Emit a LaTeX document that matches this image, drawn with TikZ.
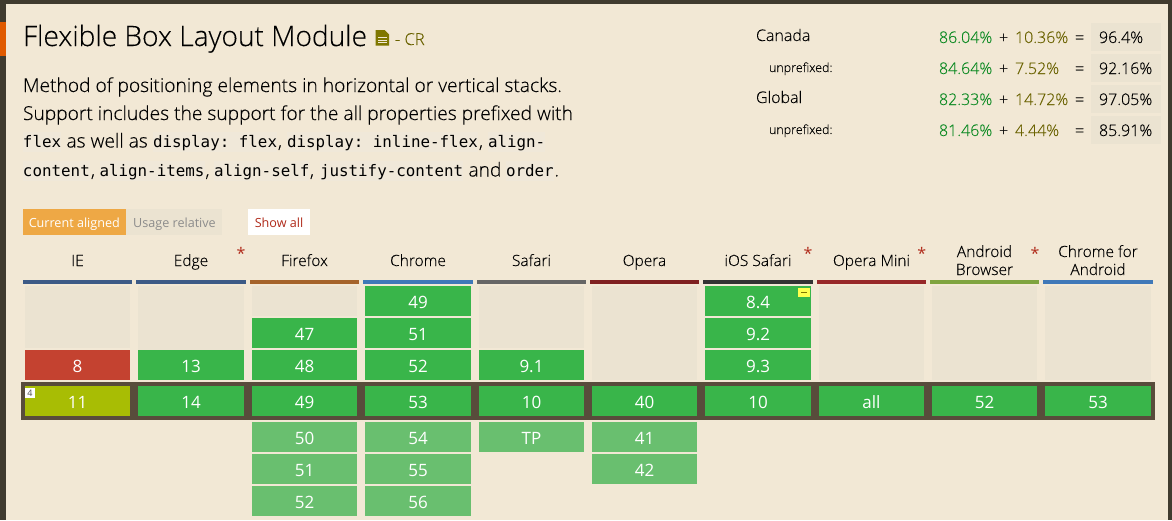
\documentclass[tikz,border=0pt]{standalone}
\usepackage{fontspec}
\setmainfont{Open Sans}
\newfontfamily\lightf[RawFeature={embolden=0.25}]{Open Sans Light}
\setmonofont{DejaVu Sans Mono}
\definecolor{pagebg}{HTML}{F2E8D5}
\definecolor{darkbar}{HTML}{403B2F}
\definecolor{framec}{HTML}{584C3B}
\definecolor{emptyc}{HTML}{EBE3D1}
\definecolor{yesc}{HTML}{39B54A}
\definecolor{futc}{HTML}{69BF6F}
\definecolor{noc}{HTML}{C44230}
\definecolor{partc}{HTML}{A8BD04}
\definecolor{orangec}{HTML}{E05A00}
\definecolor{alignc}{HTML}{EEA845}
\definecolor{olivec}{HTML}{7F7700}
\definecolor{olivet}{HTML}{6A6200}
\definecolor{greenp}{HTML}{0C8A22}
\definecolor{redt}{HTML}{B02A1A}
\definecolor{codebg}{HTML}{F0E8D9}
\definecolor{hIE}{HTML}{3C5A86}
\definecolor{hFF}{HTML}{A5632A}
\definecolor{hCH}{HTML}{3F78B8}
\definecolor{hSA}{HTML}{666666}
\definecolor{hOP}{HTML}{7F2020}
\definecolor{hIO}{HTML}{333333}
\definecolor{hOM}{HTML}{972828}
\definecolor{hAB}{HTML}{7FA43F}
\definecolor{yellowc}{HTML}{FFFF4D}
\tikzset{
  x=1pt,y=-1pt,
  txt/.style={inner sep=0pt,outer sep=0pt,anchor=base west,text=black},
  ctr/.style={inner sep=0pt,outer sep=0pt,anchor=base,text=black},
  cellt/.style={inner sep=0pt,outer sep=0pt,anchor=base,text=white,font=\fontsize{17}{17}\selectfont},
  hd/.style={ctr,font=\lightf\fontsize{15.5}{18}\selectfont,align=center},
  star/.style={ctr,text=redt,font=\fontsize{16}{16}\selectfont},
  body/.style={txt,font=\lightf\fontsize{19.2}{22}\selectfont},
  code/.style={txt,font=\ttfamily\fontsize{15.85}{18}\selectfont},
  num/.style={txt,font=\lightf\fontsize{16}{18}\selectfont},
  small/.style={txt,font=\lightf\fontsize{12.5}{15}\selectfont},
  btn/.style={ctr,font=\fontsize{12.6}{15}\selectfont},
}
\newcommand{\cellbox}[6]{% name, x0, x1, y0, colour, text
  \fill[#5] (#2,#4) rectangle (#3,#4+30);
  \node[cellt] (#1) at ({(#2+#3)/2},#4+22) {#6};
}
\newcommand{\colhead}[3]{\fill[#3] (#1-2,280) rectangle (#2+2,284);}
\newcommand{\emptycell}[3]{\fill[emptyc] (#1,286) rectangle (#2,#3);}
\begin{document}
\begin{tikzpicture}
\useasboundingbox (0,0) rectangle (1172,520);
\fill[pagebg] (0,0) rectangle (1172,520);
\fill[darkbar] (0,0) rectangle (1172,4);
\fill[darkbar] (0,0) rectangle (6,520);
\fill[darkbar] (1168,0) rectangle (1172,520);
\fill[orangec] (0,22) rectangle (6,56);
% title
\node[txt,font=\lightf\fontsize{28.1}{30}\selectfont] (title) at (23,46) {Flexible Box Layout Module};
\fill[olivec] (375.5,30) -- (384.5,30) -- (389,34.5) -- (389,45.5) -- (375.5,45.5) -- cycle;
\draw[pagebg,line width=.8pt] (378,37.5) -- (386.5,37.5) (378,40) -- (386.5,40) (378,42.5) -- (386.5,42.5);
\node[txt,text=olivet,font=\lightf\fontsize{16.5}{18}\selectfont] (cr) at (395,45) {- CR};
% description
\node[body] (l1) at (23,92) {Method of positioning elements in horizontal or vertical stacks.};
\node[body] (l2) at (23,120) {Support includes the support for the all properties prefixed with};
\fill[codebg] (23,132) rectangle (61,152);
\fill[codebg] (153,132) rectangle (277,152);
\fill[codebg] (287,132) rectangle (478,152);
\fill[codebg] (488,132) rectangle (545,152);
\fill[codebg] (23,161) rectangle (90,181);
\fill[codebg] (99.5,161) rectangle (205,181);
\fill[codebg] (214,161) rectangle (309,181);
\fill[codebg] (319.5,161) rectangle (463,181);
\fill[codebg] (506,161) rectangle (554,181);
\node[code] (c1) at (23,147.5) {flex};
\node[body] (t1) at (66.5,147.5) {as well as};
\node[code] (c2) at (153,147.5) {display: flex};
\node[body] (t2) at (278,147.5) {,};
\node[code] (c3) at (287,147.5) {display: inline-flex};
\node[body] (t3) at (479,147.5) {,};
\node[code] (c4) at (488,147.5) {align-};
\node[code] (c5) at (23,176.5) {content};
\node[body] (t4) at (91,176.5) {,};
\node[code] (c6) at (99.5,176.5) {align-items};
\node[body] (t5) at (205.5,176.5) {,};
\node[code] (c7) at (214,176.5) {align-self};
\node[body] (t6) at (310,176.5) {,};
\node[code] (c8) at (320,176.5) {justify-content};
\node[body] (t7) at (468.5,176.5) {and};
\node[code] (c9) at (506,176.5) {order};
\node[body] (t8) at (554.5,176.5) {.};
% buttons
\fill[alignc] (23,209) rectangle (126,235);
\fill[emptyc] (126,209) rectangle (222,235);
\fill[white] (248,209) rectangle (310,235);
\node[btn,text=white] (b1) at (74.3,227) {Current aligned};
\node[btn,text=black!45] (b2) at (174.5,227) {Usage relative};
\node[btn,text=redt] (b3) at (279,227) {Show all};
% stats
\foreach \y/\yy in {23/51,54/82,85/113,116/144}{\fill[emptyc] (1091,\y) rectangle (1161,\yy);}
\node[num] (s1) at (756,41) {Canada};
\node[small] (s2) at (769,72) {unprefixed:};
\node[num] (s3) at (756,103) {Global};
\node[small] (s4) at (769,134) {unprefixed:};
\node[num,text=greenp] (a1) at (939,43) {86.04\%};
\node[num] (p1) at (999,43) {+};
\node[num,text=olivet] (b11) at (1015,43) {10.36\%};
\node[num] (e1) at (1075,43) {=};
\node[num] (r1) at (1099,43) {96.4\%};
\node[num,text=greenp] (a2) at (939,74) {84.64\%};
\node[num] (p2) at (999,74) {+};
\node[num,text=olivet] (b12) at (1015,74) {7.52\%};
\node[num] (e2) at (1075,74) {=};
\node[num] (r2) at (1099,74) {92.16\%};
\node[num,text=greenp] (a3) at (939,105) {82.33\%};
\node[num] (p3) at (999,105) {+};
\node[num,text=olivet] (b13) at (1015,105) {14.72\%};
\node[num] (e3) at (1075,105) {=};
\node[num] (r3) at (1099,105) {97.05\%};
\node[num,text=greenp] (a4) at (939,136) {81.46\%};
\node[num] (p4) at (999,136) {+};
\node[num,text=olivet] (b14) at (1015,136) {4.44\%};
\node[num] (e4) at (1075,136) {=};
\node[num] (r4) at (1099,136) {85.91\%};
% frame
\fill[framec] (21,382) rectangle (1155,420);
% header bars
\colhead{25}{130}{hIE}
\colhead{138}{244}{hIE}
\colhead{252}{357}{hFF}
\colhead{365}{471}{hCH}
\colhead{479}{584}{hSA}
\colhead{592}{697}{hOP}
\colhead{705}{811}{hIO}
\colhead{819}{924}{hOM}
\colhead{932}{1037}{hAB}
\colhead{1045}{1151}{hCH}
% header labels
\node[hd] (hie) at (77.5,266) {IE};
\node[hd] (hedge) at (191,266) {Edge};
\node[hd] (hff) at (304.5,266) {Firefox};
\node[hd] (hch) at (418,266) {Chrome};
\node[hd] (hsa) at (531.5,266) {Safari};
\node[hd] (hop) at (644.5,266) {Opera};
\node[hd] (hio) at (758,266) {iOS Safari};
\node[hd] (hom) at (871.5,266) {Opera Mini};
\node[hd] (hab1) at (984.5,257) {Android};
\node[hd] (hab2) at (984.5,275) {Browser};
\node[hd] (hcf1) at (1098,257) {Chrome for};
\node[hd] (hcf2) at (1098,275) {Android};
\node[star] (st1) at (241,259) {*};
\node[star] (st2) at (808,259) {*};
\node[star] (st3) at (921.7,259) {*};
\node[star] (st4) at (1035,259) {*};
% empty cells
\emptycell{25}{130}{348}
\emptycell{138}{244}{380}
\emptycell{252}{357}{316}
\emptycell{479}{584}{348}
\emptycell{592}{697}{380}
\emptycell{819}{924}{380}
\emptycell{932}{1037}{380}
\emptycell{1045}{1151}{380}
% IE
\cellbox{ie8}{25}{130}{350}{noc}{8}
\cellbox{ie11}{25}{130}{386}{partc}{11}
\fill[white] (25,388) rectangle (35,398);
\node[inner sep=0pt,text=black!70,font=\fontsize{9}{9}\selectfont] (ienote) at (30,393) {4};
% Edge
\cellbox{ed13}{138}{244}{350}{yesc}{13}
\cellbox{ed14}{138}{244}{386}{yesc}{14}
% Firefox
\cellbox{ff47}{252}{357}{318}{yesc}{47}
\cellbox{ff48}{252}{357}{350}{yesc}{48}
\cellbox{ff49}{252}{357}{386}{yesc}{49}
\cellbox{ff50}{252}{357}{422}{futc}{50}
\cellbox{ff51}{252}{357}{454}{futc}{51}
\cellbox{ff52}{252}{357}{486}{futc}{52}
% Chrome
\cellbox{ch49}{365}{471}{286}{yesc}{49}
\cellbox{ch51}{365}{471}{318}{yesc}{51}
\cellbox{ch52}{365}{471}{350}{yesc}{52}
\cellbox{ch53}{365}{471}{386}{yesc}{53}
\cellbox{ch54}{365}{471}{422}{futc}{54}
\cellbox{ch55}{365}{471}{454}{futc}{55}
\cellbox{ch56}{365}{471}{486}{futc}{56}
% Safari
\cellbox{sa91}{479}{584}{350}{yesc}{9.1}
\cellbox{sa10}{479}{584}{386}{yesc}{10}
\cellbox{satp}{479}{584}{422}{futc}{TP}
% Opera
\cellbox{op40}{592}{697}{386}{yesc}{40}
\cellbox{op41}{592}{697}{422}{futc}{41}
\cellbox{op42}{592}{697}{454}{futc}{42}
% iOS
\cellbox{io84}{705}{811}{286}{yesc}{8.4}
\cellbox{io92}{705}{811}{318}{yesc}{9.2}
\cellbox{io93}{705}{811}{350}{yesc}{9.3}
\cellbox{io10}{705}{811}{386}{yesc}{10}
\fill[yellowc] (798,288) rectangle (810,297);
\fill[olivec] (801,291.6) rectangle (807,293.2);
% rest
\cellbox{omall}{819}{924}{386}{yesc}{all}
\cellbox{ab52}{932}{1037}{386}{yesc}{52}
\cellbox{cf53}{1045}{1151}{386}{yesc}{53}
\end{tikzpicture}
\end{document}
